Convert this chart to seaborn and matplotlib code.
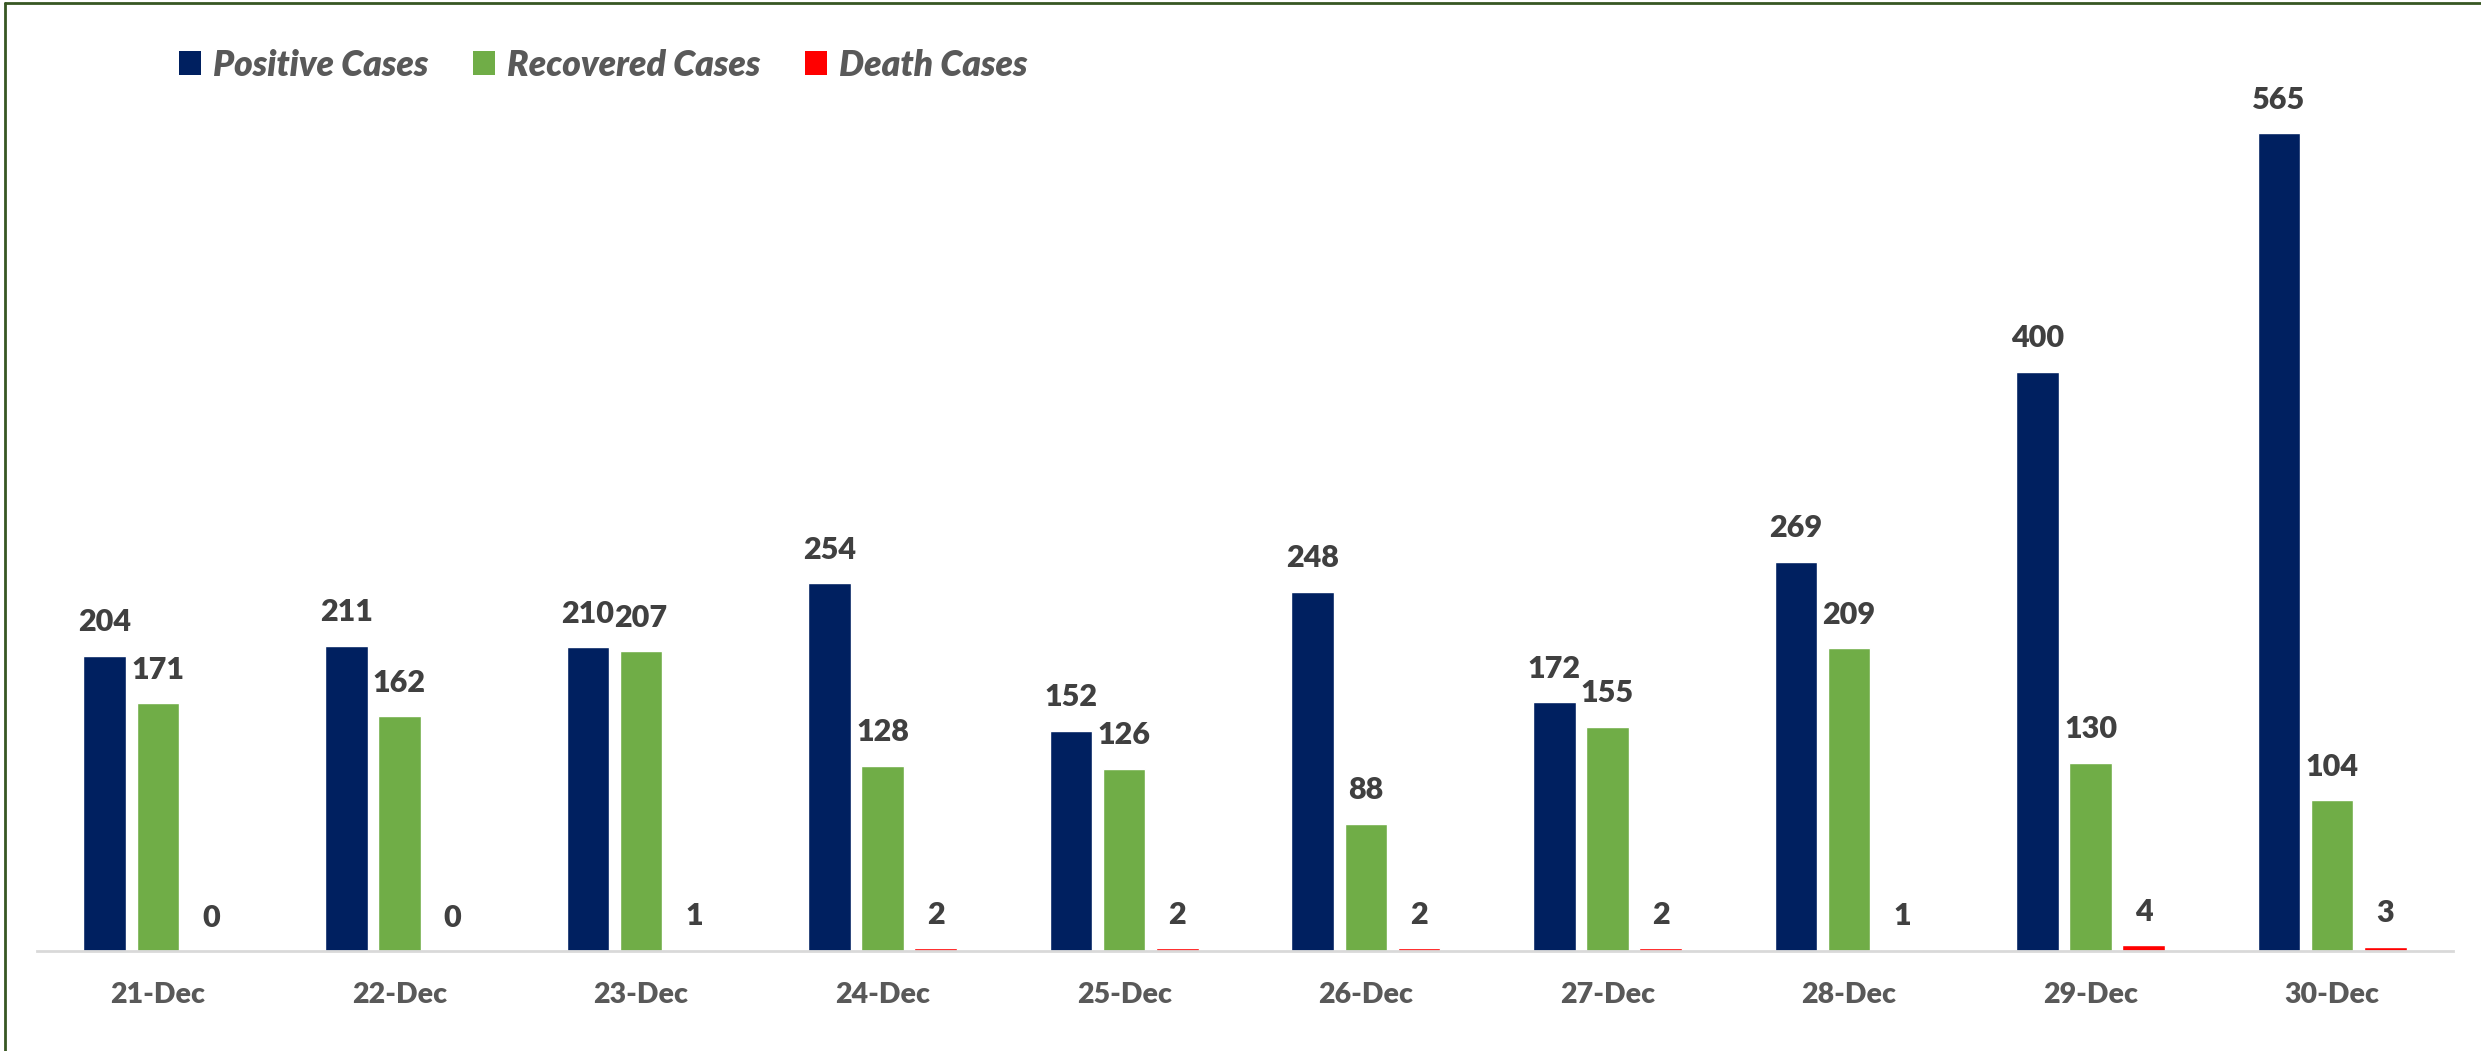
import pandas as pd
import numpy as np
import matplotlib
matplotlib.use("Agg")
import matplotlib.pyplot as plt
import seaborn as sns
from matplotlib.patches import Patch
from matplotlib.lines import Line2D

# data
dates = ["21-Dec", "22-Dec", "23-Dec", "24-Dec", "25-Dec",
         "26-Dec", "27-Dec", "28-Dec", "29-Dec", "30-Dec"]
positive = [204, 211, 210, 254, 152, 248, 172, 269, 400, 565]
recovered = [171, 162, 207, 128, 126, 88, 155, 209, 130, 104]
deaths = [0, 0, 1, 2, 2, 2, 2, 1, 4, 3]

series = ["Positive Cases", "Recovered Cases", "Death Cases"]
colors = ["#002060", "#70AD47", "#FF0000"]

df = pd.DataFrame({"date": dates, series[0]: positive,
                   series[1]: recovered, series[2]: deaths})
long_df = df.melt(id_vars="date", var_name="kind", value_name="count")

sns.set_theme(style="white")
plt.rcParams["font.family"] = ["Lato", "DejaVu Sans"]

fig = plt.figure(figsize=(24.81, 10.51), dpi=100)
ax = fig.add_axes([37 / 2481, 100 / 1051, 2416 / 2481, 868.7 / 1051])

sns.barplot(data=long_df, x="date", y="count", hue="kind",
            hue_order=series, palette=colors, order=dates,
            width=0.66, gap=0.2, saturation=1, legend=False, ax=ax)

for c in ax.containers:
    ax.bar_label(c, padding=14, fontsize=22, fontweight=800, color="#404040")

ax.set_ylim(0, 600)
ax.set_xlim(-0.5, 9.5)
ax.set_xlabel("")
ax.set_ylabel("")
ax.set_yticks([])
ax.tick_params(axis="x", length=0, pad=22, labelcolor="#595959")
for lbl in ax.get_xticklabels():
    lbl.set_fontweight(800)
    lbl.set_fontsize(20.5)
for s in ["top", "right", "left"]:
    ax.spines[s].set_visible(False)
ax.spines["bottom"].set_color("#D9D9D9")
ax.spines["bottom"].set_linewidth(2)

handles = [Patch(facecolor=col, edgecolor="none", label=s) for s, col in zip(series, colors)]
fig.legend(handles=handles, loc="center left", bbox_to_anchor=(147 / 2481, 1 - 65 / 1051),
           ncol=3, frameon=False, handlelength=0.62, handleheight=0.68,
           handletextpad=0.35, columnspacing=1.25,
           prop={"size": 25.5, "weight": 800, "style": "italic"},
           labelcolor="#595959")

# outer border (left + top)
fig.add_artist(Line2D([4.5 / 2481, 4.5 / 2481], [0, 1 - 3 / 1051], color="#385723", lw=2,
                      transform=fig.transFigure))
fig.add_artist(Line2D([4.5 / 2481, 1], [1 - 3 / 1051, 1 - 3 / 1051], color="#385723", lw=2,
                      transform=fig.transFigure))

fig.savefig("out.png", dpi=100, facecolor="white")
